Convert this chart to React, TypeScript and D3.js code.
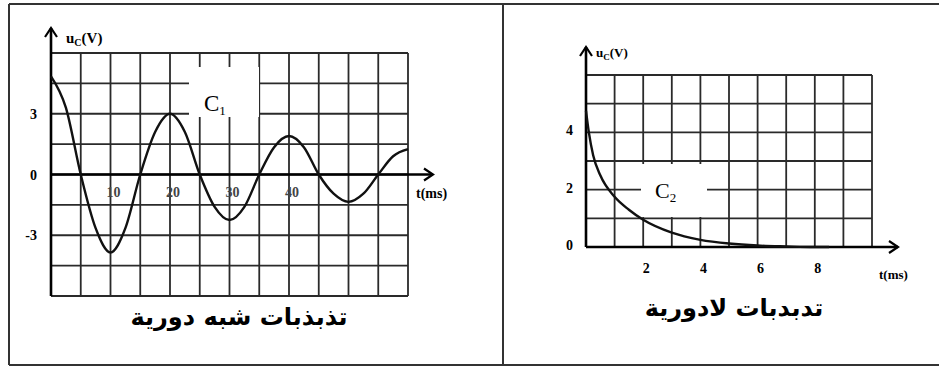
import React from "react";
import * as d3 from "d3";

// C1 : pseudo-periodic oscillations
const c1Times = [0, 2.5, 5, 7.5, 10, 12.5, 15, 17.5, 20, 22.5, 25, 27.5, 30, 32.5, 35, 37.5, 40, 42.5, 45, 47.5, 50, 52.5, 55, 57.5, 60];
const c1Values = [4.85, 3.3, 0, -2.65, -3.85, -2.65, 0, 2.1, 3.0, 2.1, 0, -1.6, -2.25, -1.6, 0, 1.35, 1.9, 1.35, 0, -0.95, -1.35, -0.95, 0, 0.9, 1.25];
const c1XTicks = [10, 20, 30, 40];
const c1YTicks = [3, 0, -3];

// C2 : aperiodic regime
const c2Times = [0, 0.1, 0.25, 0.5, 1, 1.5, 2, 3, 4, 5, 6, 7, 8, 8.5];
const c2Values = [4.75, 4.0, 3.2, 2.5, 1.75, 1.3, 0.95, 0.5, 0.25, 0.12, 0.05, 0.02, 0, 0];
const c2XTicks = [2, 4, 6, 8];
const c2YTicks = [4, 2, 0];

const titleLeft = "تذبذبات شبه دورية";
const titleRight = "تدبدبات لادورية";

const serif = "'Liberation Serif', 'DejaVu Serif', serif";
const gridColor = "#2a2a2a";

function Arrow({ x, y, dir }: { x: number; y: number; dir: "up" | "right" }) {
  const p = dir === "up"
    ? `M${x - 6},${y + 9} L${x},${y} L${x + 6},${y + 9}`
    : `M${x - 9},${y - 6} L${x},${y} L${x - 9},${y + 6}`;
  return <path d={p} fill="none" stroke="#000" strokeWidth={2.2} />;
}

function Chart1() {
  const x = d3.scaleLinear().domain([0, 60]).range([51, 408]);
  const y = d3.scaleLinear().domain([-6, 6]).range([296, 53]);
  const vLines = d3.range(0, 61, 5);
  const hLines = d3.range(-6, 6.01, 1.5);
  const line = d3.line<number>()
    .x((_, i) => x(c1Times[i]))
    .y(d => y(d))
    .curve(d3.curveMonotoneX);
  return (
    <g>
      {vLines.map(t => (
        <line key={"v" + t} x1={x(t)} x2={x(t)} y1={y(6)} y2={y(-6)} stroke={gridColor} strokeWidth={1.8} />
      ))}
      {hLines.map(v => (
        <line key={"h" + v} x1={x(0)} x2={x(60)} y1={y(v)} y2={y(v)} stroke={gridColor} strokeWidth={1.8} />
      ))}
      <rect x={189} y={67} width={70} height={50} fill="#fff" />
      <text x={204} y={111} fontFamily={serif} fontSize={23}>C<tspan fontSize={13} dy={4}>1</tspan></text>
      <line x1={x(0)} x2={x(0)} y1={y(-6)} y2={28} stroke="#000" strokeWidth={2.6} />
      <Arrow x={x(0)} y={28} dir="up" />
      <line x1={x(0)} x2={433} y1={y(0)} y2={y(0)} stroke="#000" strokeWidth={2.6} />
      <Arrow x={433} y={y(0)} dir="right" />
      <path d={line(c1Values) || ""} fill="none" stroke="#111" strokeWidth={2.4} />
      {c1XTicks.map(t => (
        <text key={t} x={x(t) + 3} y={y(0) + 22} textAnchor="middle" fontFamily={serif} fontWeight="bold" fontSize={14} fill="#444">{t}</text>
      ))}
      {c1YTicks.map(v => (
        <text key={v} x={37} y={y(v) + 5} textAnchor="end" fontFamily={serif} fontWeight="bold" fontSize={14}>{v}</text>
      ))}
      <text x={66} y={43} fontFamily={serif} fontWeight="bold" fontSize={15}>u<tspan fontSize={10} dy={3}>C</tspan><tspan dy={-3}>(V)</tspan></text>
      <text x={416} y={198} fontFamily={serif} fontWeight="bold" fontSize={14}>t(ms)</text>
      <text x={239} y={325} textAnchor="middle" fontFamily="'DejaVu Sans', sans-serif" fontWeight="bold" fontSize={24} direction="rtl">{titleLeft}</text>
    </g>
  );
}

function Chart2() {
  const x = d3.scaleLinear().domain([0, 10]).range([586, 872]);
  const y = d3.scaleLinear().domain([0, 6]).range([247, 75]);
  const vLines = d3.range(0, 11, 1);
  const hLines = d3.range(0, 7, 1);
  const line = d3.line<number>()
    .x((_, i) => x(c2Times[i]))
    .y(d => y(d))
    .curve(d3.curveMonotoneX);
  return (
    <g>
      {vLines.map(t => (
        <line key={"v" + t} x1={x(t)} x2={x(t)} y1={y(6)} y2={y(0)} stroke={gridColor} strokeWidth={1.8} />
      ))}
      {hLines.map(v => (
        <line key={"h" + v} x1={x(0)} x2={x(10)} y1={y(v)} y2={y(v)} stroke={gridColor} strokeWidth={1.8} />
      ))}
      <rect x={641} y={164} width={66} height={53} fill="#fff" />
      <text x={655} y={198} fontFamily={serif} fontSize={22}>C<tspan fontSize={13} dy={4}>2</tspan></text>
      <line x1={x(0)} x2={x(0)} y1={y(0)} y2={47} stroke="#000" strokeWidth={2.6} />
      <Arrow x={x(0)} y={47} dir="up" />
      <line x1={x(0)} x2={898} y1={y(0)} y2={y(0)} stroke="#000" strokeWidth={2.6} />
      <Arrow x={898} y={y(0)} dir="right" />
      <path d={line(c2Values) || ""} fill="none" stroke="#111" strokeWidth={2.4} />
      {c2XTicks.map(t => (
        <text key={t} x={x(t) + 3} y={y(0) + 26} textAnchor="middle" fontFamily={serif} fontWeight="bold" fontSize={14}>{t}</text>
      ))}
      {c2YTicks.map(v => (
        <text key={v} x={573} y={y(v) + 3} textAnchor="end" fontFamily={serif} fontWeight="bold" fontSize={14}>{v}</text>
      ))}
      <text x={596} y={57} fontFamily={serif} fontWeight="bold" fontSize={13}>u<tspan fontSize={9} dy={3}>C</tspan><tspan dy={-3}>(V)</tspan></text>
      <text x={879} y={279} fontFamily={serif} fontWeight="bold" fontSize={13}>t(ms)</text>
      <text x={734} y={316} textAnchor="middle" fontFamily="'DejaVu Sans', sans-serif" fontWeight="bold" fontSize={24} direction="rtl">{titleRight}</text>
    </g>
  );
}

export default function App() {
  return (
    <svg width={939} height={367} style={{ position: "fixed", left: 0, top: 0, background: "#fff" }}>
      <rect x={0} y={0} width={939} height={367} fill="#fff" />
      <line x1={9} x2={939} y1={4} y2={4} stroke="#333" strokeWidth={2} />
      <line x1={9} x2={939} y1={365} y2={365} stroke="#333" strokeWidth={2} />
      <line x1={9} x2={9} y1={4} y2={365} stroke="#333" strokeWidth={2} />
      <line x1={503} x2={503} y1={4} y2={365} stroke="#333" strokeWidth={2} />
      <Chart1 />
      <Chart2 />
    </svg>
  );
}
